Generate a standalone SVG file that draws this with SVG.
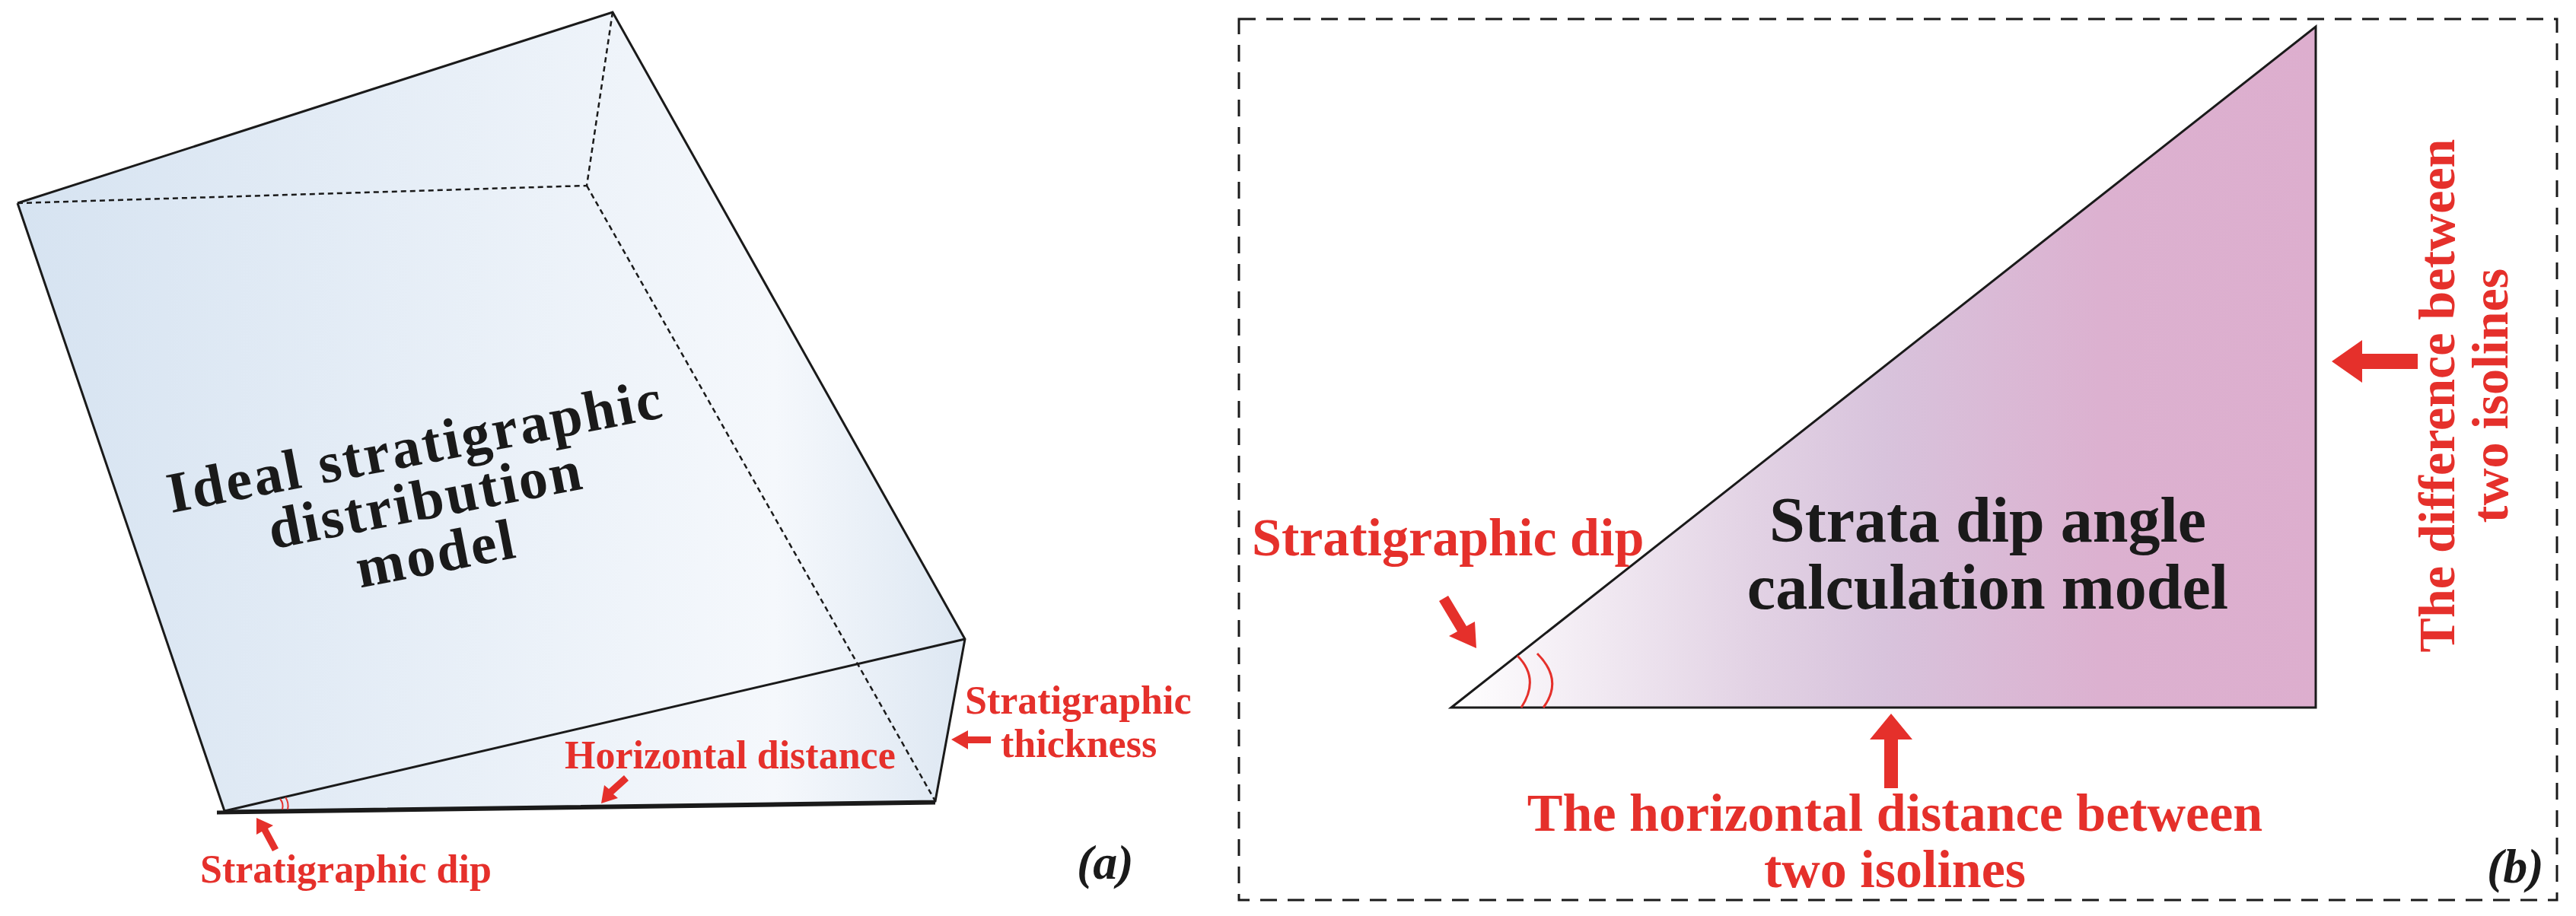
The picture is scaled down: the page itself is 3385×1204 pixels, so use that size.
<svg xmlns="http://www.w3.org/2000/svg" width="3385" height="1204" viewBox="0 0 3385 1204">
<style>
.r{fill:#e5302b;font-family:"Liberation Serif","DejaVu Serif",serif;font-weight:bold}
.k{fill:#1a1a1a;font-family:"Liberation Serif","DejaVu Serif",serif;font-weight:bold}
.s{fill:none;stroke:#1a1a1a;stroke-width:3}
.d{fill:none;stroke:#1a1a1a;stroke-width:2.5;stroke-dasharray:7 5}
.a{fill:#e5302b}
</style>
<defs>
<linearGradient id="g1" x1="0" y1="0" x2="1" y2="0">
<stop offset="0" stop-color="#d6e3f1"/><stop offset="0.8" stop-color="#f5f8fc"/><stop offset="1" stop-color="#dde7f2"/>
</linearGradient>
<linearGradient id="g2" x1="0" y1="0" x2="1" y2="0">
<stop offset="0" stop-color="#ffffff"/><stop offset="0.35" stop-color="#e2d2e4"/><stop offset="0.5" stop-color="#d8c3dc"/><stop offset="0.75" stop-color="#dcb1d0"/><stop offset="1" stop-color="#ddaece"/>
</linearGradient>
</defs>
<g id="panel-a">
<polygon points="805,16 23,267 295,1066 1229,1053 1268,840" fill="url(#g1)"/>
<polyline class="s" points="23,267 805,16 1268,840 1229,1053 295,1066 23,267"/>
<line class="s" x1="295" y1="1066" x2="1268" y2="840"/>
<line x1="285" y1="1068" x2="1229" y2="1055" stroke="#1a1a1a" stroke-width="5"/>
<polyline class="d" points="23,267 771,244 805,16"/>
<line class="d" x1="771" y1="244" x2="1229" y2="1053"/>
<path d="M368,1050 q5,6 3,14 M375,1048 q5,7 3,16" fill="none" stroke="#e5302b" stroke-width="2"/>
<g transform="rotate(-11 560 660)" class="k" font-size="76" text-anchor="middle" letter-spacing="3">
<text x="560" y="610">Ideal stratigraphic</text>
<text x="560" y="682">distribution</text>
<text x="560" y="754">model</text>
</g>
<text class="r" x="1268" y="938" font-size="52">Stratigraphic</text>
<text class="r" x="1315" y="995" font-size="52">thickness</text>
<path class="a" d="M1250,972 l22,-12 v8 h30 v9 h-30 v8 z"/>
<text class="r" x="742" y="1010" font-size="52">Horizontal distance</text>
<path class="a" d="M790,1056 l4,-24 l6,5 l20,-18 l6,7 l-20,18 l6,5 z"/>
<text class="r" x="263" y="1160" font-size="52">Stratigraphic dip</text>
<path class="a" d="M337,1075 l22,10 l-7,4 l14,26 l-8,4 l-14,-26 l-7,4 z"/>
<text x="1415" y="1155" font-family="Liberation Serif,serif" font-weight="bold" font-style="italic" font-size="64" fill="#1a1a1a">(a)</text>
</g>
<rect x="1628" y="25" width="1732" height="1158" fill="none" stroke="#1a1a1a" stroke-width="3" stroke-dasharray="22 14"/>
<g id="panel-b">
<polygon points="1907,930 3043,35 3043,930" fill="url(#g2)"/>
<polygon class="s" points="1907,930 3043,35 3043,930"/>
<path d="M1994,862 q30,30 5,68 M2020,859 q35,35 8,71" fill="none" stroke="#e5302b" stroke-width="3"/>
<text class="k" x="2612" y="712" font-size="84" text-anchor="middle">Strata dip angle</text>
<text class="k" x="2612" y="800" font-size="84" text-anchor="middle">calculation model</text>
<text class="r" x="1645" y="730" font-size="70">Stratigraphic dip</text>
<path class="a" d="M1940,852 l-36,-16 l11,-6 l-24,-40 l12,-7 l24,40 l11,-6 z"/>
<path class="a" d="M2485,938 l-28,34 h19 v64 h18 v-64 h19 z"/>
<text class="r" x="2490" y="1092" font-size="70" text-anchor="middle">The horizontal distance between</text>
<text class="r" x="2490" y="1166" font-size="70" text-anchor="middle">two isolines</text>
<path class="a" d="M3064,475 l40,-28 v18 h73 v20 h-73 v18 z"/>
<g transform="rotate(-90)" class="r" font-size="68" text-anchor="middle">
<text x="-520" y="3225">The difference between</text>
<text x="-520" y="3295">two isolines</text>
</g>
<text x="3268" y="1160" font-family="Liberation Serif,serif" font-weight="bold" font-style="italic" font-size="64" fill="#1a1a1a">(b)</text>
</g>
</svg>
